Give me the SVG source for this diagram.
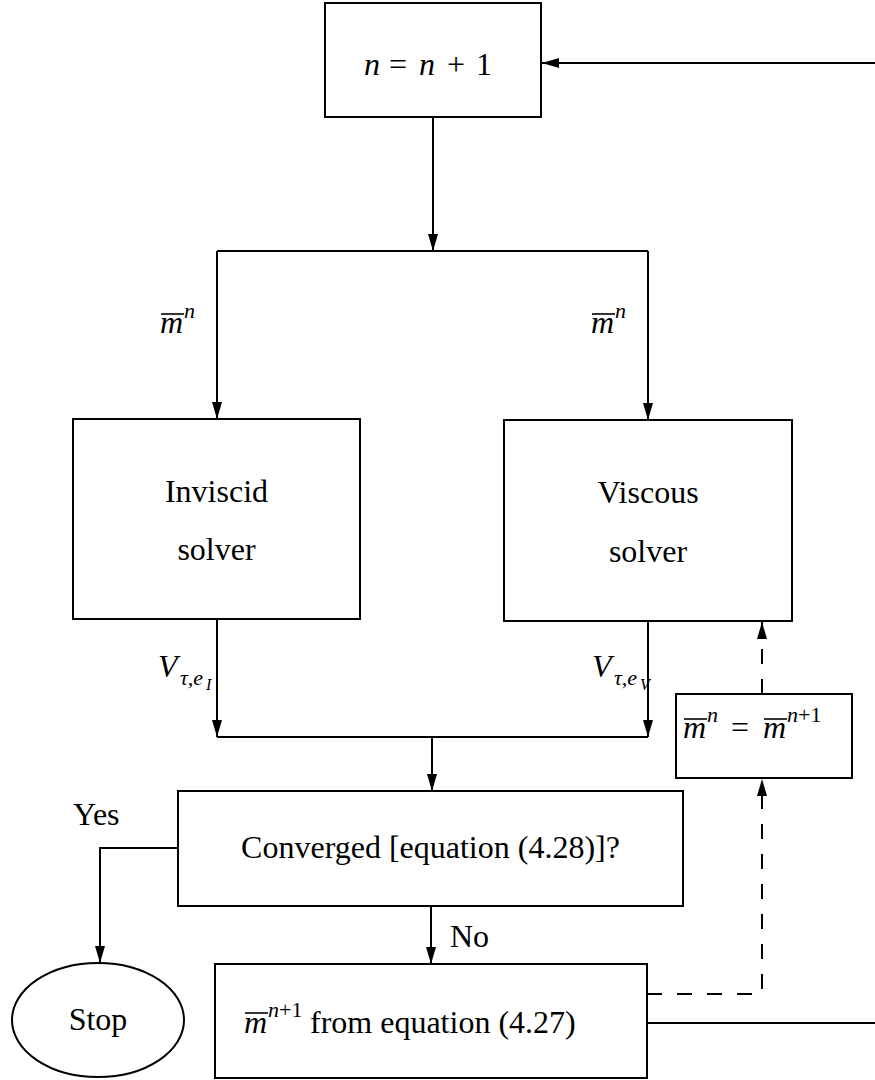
<svg xmlns="http://www.w3.org/2000/svg" width="875" height="1080" viewBox="0 0 875 1080">
<style>
.box{fill:#fff;stroke:#000;stroke-width:2}
.c{fill:none;stroke:#000;stroke-width:2}
.d{fill:none;stroke:#000;stroke-width:2;stroke-dasharray:15 15}
.t{font-family:"Liberation Serif","Times New Roman",serif;font-size:32px;fill:#000}
.i{font-style:italic}
.s{font-size:22px}
.ss{font-size:16px}
.bar{stroke:#000;stroke-width:1.6}
</style>
<defs>
<marker id="ah" markerUnits="userSpaceOnUse" markerWidth="18" markerHeight="10" refX="17" refY="5" orient="auto">
<path d="M0,0 L17,5 L0,10 z" fill="#000"/>
</marker>
</defs>
<rect width="875" height="1080" fill="#fff"/>
<g id="connectors">
<line class="c" x1="875" y1="63" x2="542" y2="63" marker-end="url(#ah)"/>
<line class="c" x1="433" y1="117" x2="433" y2="251" marker-end="url(#ah)"/>
<line class="c" x1="217" y1="251" x2="648" y2="251"/>
<line class="c" x1="217" y1="251" x2="217" y2="419" marker-end="url(#ah)"/>
<line class="c" x1="648" y1="251" x2="648" y2="420" marker-end="url(#ah)"/>
<line class="c" x1="217" y1="619" x2="217" y2="737" marker-end="url(#ah)"/>
<line class="c" x1="648" y1="621" x2="648" y2="737" marker-end="url(#ah)"/>
<line class="c" x1="217" y1="737" x2="648" y2="737"/>
<line class="c" x1="432" y1="737" x2="432" y2="791" marker-end="url(#ah)"/>
<polyline class="c" points="178,848 100,848 100,963" marker-end="url(#ah)"/>
<line class="c" x1="431" y1="906" x2="431" y2="964" marker-end="url(#ah)"/>
<polyline class="d" points="647,994 762,994 762,779" marker-end="url(#ah)"/>
<line class="d" x1="762" y1="694" x2="762" y2="622" marker-end="url(#ah)"/>
<line class="c" x1="647" y1="1023" x2="875" y2="1023"/>
<text class="t" x="73" y="825">Yes</text>
<text class="t" x="450" y="947">No</text>
<g id="lbl-m-left">
<text class="t i" x="160" y="333">m</text>
<text class="t i s" x="184" y="318">n</text>
<line class="bar" x1="161" y1="314" x2="184" y2="314"/>
</g>
<g id="lbl-m-right">
<text class="t i" x="591" y="333">m</text>
<text class="t i s" x="615" y="318">n</text>
<line class="bar" x1="592" y1="314" x2="615" y2="314"/>
</g>
<g id="lbl-v-left">
<text class="t i" x="158" y="677">V</text>
<text class="t i s" x="180" y="685">τ,e</text>
<text class="t i ss" x="206" y="690">I</text>
</g>
<g id="lbl-v-right">
<text class="t i" x="592" y="677">V</text>
<text class="t i s" x="614" y="685">τ,e</text>
<text class="t i ss" x="640" y="690">V</text>
</g>
</g>
<g id="n-update">
<rect class="box" x="325" y="3" width="216" height="114"/>
<text class="t i" x="364" y="75">n</text>
<text class="t" x="389" y="75">=</text>
<text class="t i" x="419" y="75">n</text>
<text class="t" x="447" y="75">+</text>
<text class="t" x="476" y="75">1</text>
</g>
<g id="inviscid">
<rect class="box" x="73" y="419" width="287" height="200"/>
<text class="t" x="216.5" y="502" text-anchor="middle">Inviscid</text>
<text class="t" x="216.5" y="560" text-anchor="middle">solver</text>
</g>
<g id="viscous">
<rect class="box" x="504" y="420" width="288" height="201"/>
<text class="t" x="648" y="503" text-anchor="middle">Viscous</text>
<text class="t" x="648" y="562" text-anchor="middle">solver</text>
</g>
<g id="update-m">
<rect class="box" x="676" y="694" width="176" height="84"/>
<text class="t i" x="683" y="738">m</text>
<text class="t i s" x="707" y="722">n</text>
<line class="bar" x1="684" y1="719" x2="707" y2="719"/>
<text class="t" x="731" y="738">=</text>
<text class="t i" x="763" y="738">m</text>
<text class="t s" x="787" y="722"><tspan class="i">n</tspan>+1</text>
<line class="bar" x1="764" y1="719" x2="787" y2="719"/>
</g>
<g id="converged">
<rect class="box" x="178" y="791" width="505" height="115"/>
<text class="t" x="430.5" y="858" text-anchor="middle">Converged [equation (4.28)]?</text>
</g>
<g id="stop">
<ellipse class="box" cx="98" cy="1020" rx="86" ry="57"/>
<text class="t" x="98" y="1030" text-anchor="middle">Stop</text>
</g>
<g id="compute-m">
<rect class="box" x="215" y="964" width="432" height="114"/>
<text class="t i" x="244" y="1033">m</text>
<text class="t s" x="268" y="1017"><tspan class="i">n</tspan>+1</text>
<line class="bar" x1="245" y1="1013" x2="268" y2="1013"/>
<text class="t" x="310" y="1033">from equation (4.27)</text>
</g>
</svg>
